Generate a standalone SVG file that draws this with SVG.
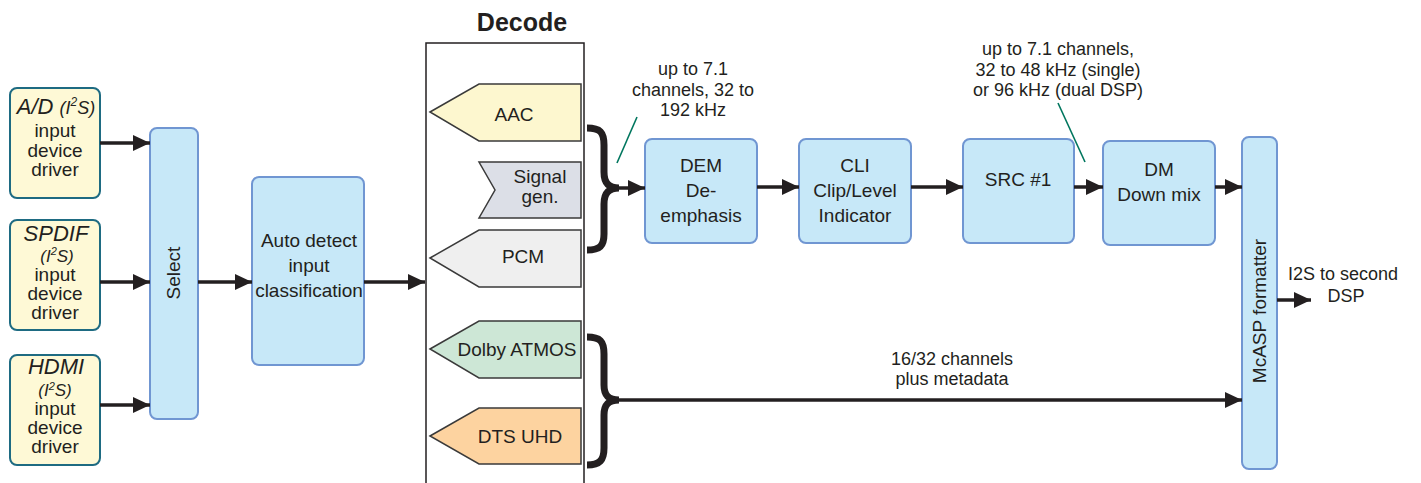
<svg xmlns="http://www.w3.org/2000/svg" width="1421" height="483" viewBox="0 0 1421 483">
<style>
  text { font-family: "Liberation Sans", Arial, sans-serif; fill: #231F20; }
  .t { font-size: 19px; text-anchor: middle; }
  .ann { font-size: 18px; text-anchor: middle; }
  .it { font-style: italic; text-anchor: middle; }
  .inbox { fill: #FEF9D6; stroke: #1E6B82; stroke-width: 2; }
  .blue { fill: #C7E8F8; stroke: #7096D2; stroke-width: 2; }
  .pent { stroke: #3A3A3A; stroke-width: 1.5; }
  .conn { stroke: #231F20; stroke-width: 3.5; fill: none; }
  .brace { stroke: #231F20; stroke-width: 7; fill: none; }
  .lead { stroke: #00765E; stroke-width: 1.6; fill: none; }
</style>
<defs>
  <marker id="ah" markerUnits="userSpaceOnUse" markerWidth="18" markerHeight="16" refX="17" refY="8" orient="auto">
    <path d="M0,0 L17,8 L0,16 z" fill="#231F20"/>
  </marker>
</defs>

<!-- Input drivers -->
<g id="node-ad">
  <rect class="inbox" x="10" y="88" width="90" height="110" rx="7"/>
  <text class="it" x="56" y="114"><tspan font-size="22">A/D </tspan><tspan font-size="18">(I</tspan><tspan font-size="12" dy="-8">2</tspan><tspan font-size="18" dy="8">S)</tspan></text>
  <text class="t" x="55" y="137">input</text>
  <text class="t" x="55" y="157">device</text>
  <text class="t" x="55" y="176">driver</text>
</g>
<g id="node-spdif">
  <rect class="inbox" x="10" y="220" width="90" height="110" rx="7"/>
  <text class="it" x="56" y="241" font-size="22">SPDIF</text>
  <text class="it" x="57" y="262"><tspan font-size="17">(I</tspan><tspan font-size="11" dy="-7">2</tspan><tspan font-size="17" dy="7">S)</tspan></text>
  <text class="t" x="55" y="281">input</text>
  <text class="t" x="55" y="300">device</text>
  <text class="t" x="55" y="319">driver</text>
</g>
<g id="node-hdmi">
  <rect class="inbox" x="10" y="355" width="90" height="110" rx="7"/>
  <text class="it" x="56" y="374" font-size="22">HDMI</text>
  <text class="it" x="55" y="396"><tspan font-size="17">(I</tspan><tspan font-size="11" dy="-6">2</tspan><tspan font-size="17" dy="6">S)</tspan></text>
  <text class="t" x="55" y="415">input</text>
  <text class="t" x="55" y="434">device</text>
  <text class="t" x="55" y="453">driver</text>
</g>

<!-- Select -->
<g id="node-select">
  <rect class="blue" x="150" y="128" width="48" height="291" rx="7"/>
  <text class="t" font-size="18" transform="translate(180,273) rotate(-90)">Select</text>
</g>

<!-- Auto detect -->
<g id="node-autodetect">
  <rect class="blue" x="252" y="177" width="112" height="188" rx="7"/>
  <text class="t" x="309" y="247" font-size="19.5">Auto detect</text>
  <text class="t" x="309" y="272" font-size="19.5">input</text>
  <text class="t" x="309" y="297" font-size="19.5">classification</text>
</g>

<!-- Decode frame -->
<g id="node-decode">
  <rect x="426" y="43" width="158" height="460" fill="none" stroke="#231F20" stroke-width="1.5"/>
  <text x="522" y="31" font-size="25" font-weight="bold" text-anchor="middle">Decode</text>
</g>
<g id="node-aac">
  <polygon class="pent" fill="#FDF7CF" points="430,112 479,84 581,84 581,141 479,141"/>
  <text class="t" x="514" y="121">AAC</text>
</g>
<g id="node-siggen">
  <polygon class="pent" fill="#DCDFE7" points="479,162 581,162 581,218 479,218 495,190"/>
  <text class="t" x="540" y="183">Signal</text>
  <text class="t" x="540" y="203">gen.</text>
</g>
<g id="node-pcm">
  <polygon class="pent" fill="#EFEFEF" points="430,258 479,230 581,230 581,287 479,287"/>
  <text class="t" x="523" y="263">PCM</text>
</g>
<g id="node-dolby">
  <polygon class="pent" fill="#CDE7D6" points="430,349 479,321 581,321 581,378 479,378"/>
  <text class="t" x="517" y="356">Dolby ATMOS</text>
</g>
<g id="node-dts">
  <polygon class="pent" fill="#FDD3A0" points="430,436 479,408 581,408 581,464 479,464"/>
  <text class="t" x="520" y="443">DTS UHD</text>
</g>

<!-- Processing chain -->
<g id="node-dem">
  <rect class="blue" x="645" y="139" width="112" height="104" rx="7"/>
  <text class="t" x="701" y="172">DEM</text>
  <text class="t" x="701" y="197">De-</text>
  <text class="t" x="701" y="222">emphasis</text>
</g>
<g id="node-cli">
  <rect class="blue" x="799" y="139" width="112" height="104" rx="7"/>
  <text class="t" x="855" y="172">CLI</text>
  <text class="t" x="855" y="197">Clip/Level</text>
  <text class="t" x="855" y="222">Indicator</text>
</g>
<g id="node-src">
  <rect class="blue" x="963" y="139" width="111" height="104" rx="7"/>
  <text class="t" x="1018" y="186">SRC #1</text>
</g>
<g id="node-dm">
  <rect class="blue" x="1103" y="141" width="112" height="104" rx="7"/>
  <text class="t" x="1159" y="176">DM</text>
  <text class="t" x="1159" y="201">Down mix</text>
</g>
<g id="node-mcasp">
  <rect class="blue" x="1242" y="137" width="35" height="332" rx="7"/>
  <text class="t" font-size="18" transform="translate(1266,311) rotate(-90)">McASP formatter</text>
</g>

<!-- Annotations -->
<g id="annotations">
  <text class="ann" x="693" y="75">up to 7.1</text>
  <text class="ann" x="693" y="96">channels, 32 to</text>
  <text class="ann" x="693" y="116">192 kHz</text>
  <text class="ann" x="1058" y="55">up to 7.1 channels,</text>
  <text class="ann" x="1058" y="76">32 to 48 kHz (single)</text>
  <text class="ann" x="1058" y="96">or 96 kHz (dual DSP)</text>
  <text class="ann" x="952" y="365">16/32 channels</text>
  <text class="ann" x="952" y="385">plus metadata</text>
  <text x="1288" y="280" font-size="18">I2S to second</text>
  <text class="ann" x="1346" y="302">DSP</text>
  <line class="lead" x1="637" y1="117" x2="617" y2="163"/>
  <line class="lead" x1="1058" y1="103" x2="1085" y2="162"/>
</g>

<!-- Connectors -->
<g id="connectors">
  <line class="conn" x1="100" y1="143" x2="150" y2="143" marker-end="url(#ah)"/>
  <line class="conn" x1="100" y1="282" x2="150" y2="282" marker-end="url(#ah)"/>
  <line class="conn" x1="100" y1="405" x2="150" y2="405" marker-end="url(#ah)"/>
  <line class="conn" x1="198" y1="282" x2="252" y2="282" marker-end="url(#ah)"/>
  <line class="conn" x1="364" y1="282" x2="425" y2="282" marker-end="url(#ah)"/>
  <path class="brace" d="M587,128 C600,128 604,132 604,145 L604,172 C604,182 608,188 619,188 C608,188 604,194 604,204 L604,234 C604,246 600,250 587,250"/>
  <line class="conn" x1="617" y1="188" x2="645" y2="188" marker-end="url(#ah)"/>
  <line class="conn" x1="757" y1="187" x2="799" y2="187" marker-end="url(#ah)"/>
  <line class="conn" x1="911" y1="187" x2="963" y2="187" marker-end="url(#ah)"/>
  <line class="conn" x1="1074" y1="187" x2="1103" y2="187" marker-end="url(#ah)"/>
  <line class="conn" x1="1215" y1="187" x2="1242" y2="187" marker-end="url(#ah)"/>
  <path class="brace" d="M587,337 C600,337 604,341 604,354 L604,385 C604,395 608,400 619,400 C608,400 604,405 604,415 L604,448 C604,460 600,465 587,465"/>
  <line class="conn" x1="617" y1="400" x2="1242" y2="400" marker-end="url(#ah)"/>
  <line class="conn" x1="1277" y1="300" x2="1311" y2="300" marker-end="url(#ah)"/>
</g>
</svg>
